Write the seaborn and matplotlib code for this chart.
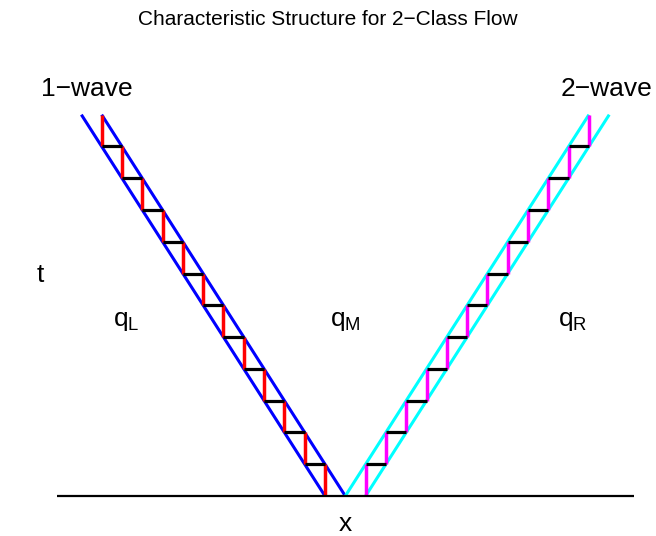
import numpy as np
import pandas as pd
import matplotlib
matplotlib.use("Agg")
import matplotlib.pyplot as plt
import seaborn as sns

sns.set_theme(style="white")
plt.rcParams["font.family"] = ["Liberation Sans", "DejaVu Sans"]
plt.rcParams["mathtext.fontset"] = "custom"
plt.rcParams["mathtext.rm"] = "Liberation Sans"
plt.rcParams["mathtext.default"] = "regular"
plt.rcParams["text.color"] = "black"

# Staircase (numerical) steps: step index k -> cell edge x = +/-k, time levels t
step_x = [1, 2, 3, 4, 5, 6, 7, 8, 9, 10, 11, 12]
step_t_start = [0, 1, 2, 3, 4, 5, 6, 7, 8, 9, 10, 11]
step_t_end = [1, 2, 3, 4, 5, 6, 7, 8, 9, 10, 11, 12]
hold_t = [1, 2, 3, 4, 5, 6, 7, 8, 9, 10, 11]
hold_x_from = [1, 2, 3, 4, 5, 6, 7, 8, 9, 10, 11]
hold_x_to = [2, 3, 4, 5, 6, 7, 8, 9, 10, 11, 12]

# Exact wave boundaries (x at t=0, x at t=12)
wave1_x0 = [0, -1]
wave1_x1 = [-12, -13]
wave2_x0 = [0, 1]
wave2_x1 = [12, 13]
wave_t = [0, 12]

axis_x = [-14.2, 14.22]

rows = []
def seg(group, xs, ts):
    for i, (x, t) in enumerate(zip(xs, ts)):
        rows.append({"group": group, "order": i, "x": x, "t": t})

seg("axis", axis_x, [0, 0])
for i, (a, b) in enumerate(zip(wave1_x0, wave1_x1)):
    seg(f"w1_{i}", [a, b], wave_t)
for i, (a, b) in enumerate(zip(wave2_x0, wave2_x1)):
    seg(f"w2_{i}", [a, b], wave_t)
for k, t0, t1 in zip(step_x, step_t_start, step_t_end):
    seg(f"red_{k}", [-k, -k], [t0, t1])
    seg(f"mag_{k}", [k, k], [t0, t1])
for t, a, b in zip(hold_t, hold_x_from, hold_x_to):
    seg(f"blkL_{t}", [-a, -b], [t, t])
    seg(f"blkR_{t}", [a, b], [t, t])

df = pd.DataFrame(rows)
df["kind"] = df["group"].str.split("_").str[0]

fig = plt.figure(figsize=(6.56, 5.36), dpi=100)
ax = fig.add_axes([57 / 656, 40 / 536, 577 / 656, 429 / 536])

styles = [
    ("w1", "#0000ff", 2.2),
    ("w2", "#00ffff", 2.2),
    ("red", "#ff0000", 2.5),
    ("mag", "#ff00ff", 2.5),
    ("blkL", "black", 2.3),
    ("blkR", "black", 2.3),
    ("axis", "black", 1.6),
]
for kind, color, lw in styles:
    sub = df[df["kind"] == kind]
    sns.lineplot(data=sub, x="x", y="t", units="group", estimator=None,
                 sort=False, color=color, linewidth=lw, ax=ax,
                 solid_capstyle="butt")
for line in ax.get_lines():
    line.set_clip_on(False)

ax.set_xlim(axis_x[0], axis_x[1])
ax.set_ylim(0, 13.5)
ax.set_axis_off()

fs = 19
ax.text(-12.75, 12.58, "1\u2212wave", ha="center", va="baseline", fontsize=fs, clip_on=False)
ax.text(12.85, 12.58, "2\u2212wave", ha="center", va="baseline", fontsize=fs, clip_on=False)
ax.text(-10.8, 5.35, "q$_L$", ha="center", va="baseline", fontsize=fs)
ax.text(0.0, 5.35, "q$_M$", ha="center", va="baseline", fontsize=fs)
ax.text(11.2, 5.35, "q$_R$", ha="center", va="baseline", fontsize=fs)
ax.text(-15.0, 6.75, "t", ha="center", va="baseline", fontsize=fs, clip_on=False)
ax.text(0.0, -1.1, "x", ha="center", va="baseline", fontsize=fs, clip_on=False)

fig.text(328 / 656, 1 - 25 / 536, "Characteristic Structure for 2\u2212Class Flow",
         ha="center", va="baseline", fontsize=15)

fig.savefig("out.png", dpi=100, facecolor="white")
